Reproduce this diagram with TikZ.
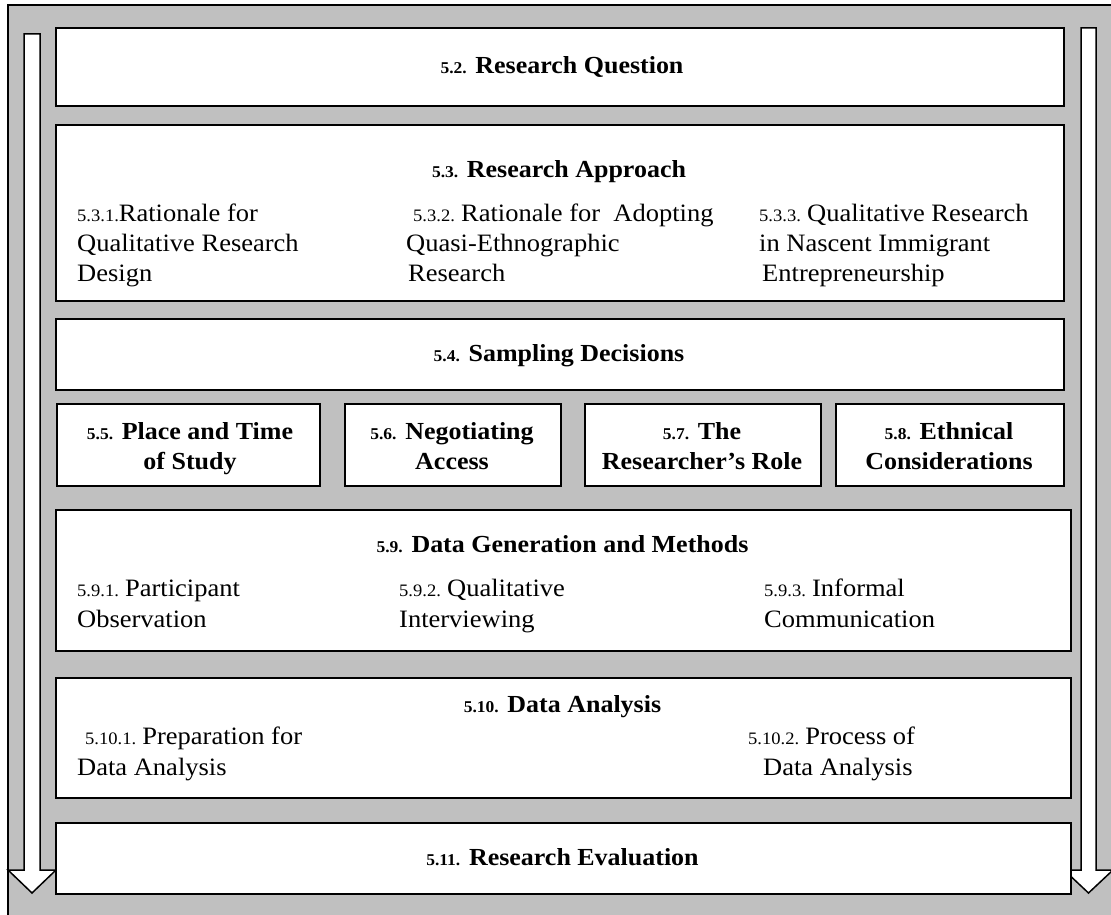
\documentclass[tikz,border=0pt]{standalone}
\usepackage{fontspec}
\setmainfont{Liberation Serif}[FakeStretch=1.06]
\usetikzlibrary{positioning}
\definecolor{frameGray}{HTML}{C0C0C0}
% text sizes: headings, sub-items, and the small section numbers
\newcommand{\headfont}{\fontsize{24.5}{30}\selectfont\bfseries}
\newcommand{\itemfont}{\fontsize{25}{30}\selectfont}
\newcommand{\bno}[1]{{\fontsize{16.5}{16}\selectfont\bfseries #1}}
\newcommand{\sno}[1]{{\fontsize{17.5}{17}\selectfont #1}}
\newcommand{\txtl}[1]{\begin{tabular}[t]{@{}l@{}}#1\end{tabular}}
\newcommand{\txtc}[1]{\begin{tabular}[t]{@{}c@{}}#1\end{tabular}}
\tikzset{
  panel/.style={draw=black,line width=1.7pt,fill=white,inner sep=0pt,
                anchor=north west},
  head/.style={font=\headfont,anchor=base,inner sep=0pt},
  item/.style={font=\itemfont,anchor=base west,inner sep=0pt},
  flowarrow/.style={draw=black,line width=1.5pt,fill=white,line join=miter},
}

\begin{document}
\begin{tikzpicture}[x=1pt,y=-1pt]
  \useasboundingbox (0,0) rectangle (1111,915);
  \clip (0,0) rectangle (1111,915);
  % grey frame, runs off the right and bottom edge
  \draw[line width=1.7pt,fill=frameGray] (8,5) rectangle (1130,935);

  % downward arrows on both sides
  \draw[flowarrow] (24,34) -- (40,34) -- (40,870) -- (56,870) -- (32,893)
    -- (8,870) -- (24,870) -- cycle;
  \draw[flowarrow] (1081,28) -- (1096,28) -- (1096,870) -- (1113,870)
    -- (1088.5,893) -- (1064,870) -- (1081,870) -- cycle;

  % stacked sections
  \node[panel,minimum width=1008pt,minimum height=78pt] (rq) at (55,27) {};
  \node[panel,minimum width=1008pt,minimum height=176pt] (ra) at (55,124) {};
  \node[panel,minimum width=1008pt,minimum height=71pt] (sd) at (55,318) {};
  \node[panel,minimum width=263pt,minimum height=82pt] (pt) at (56,403) {};
  \node[panel,minimum width=216pt,minimum height=82pt] (na) at (344,403) {};
  \node[panel,minimum width=236pt,minimum height=82pt] (rr) at (584,403) {};
  \node[panel,minimum width=228pt,minimum height=82pt] (ec) at (835,403) {};
  \node[panel,minimum width=1015pt,minimum height=141pt] (dg) at (55,509) {};
  \node[panel,minimum width=1015pt,minimum height=120pt] (da) at (55,677) {};
  \node[panel,minimum width=1015pt,minimum height=71pt] (re) at (55,822) {};

  % headings
  \node[head] (rqT) at (562,74) {\bno{5.2.} Research Question};
  \node[head] (raT) at (559,178) {\bno{5.3.} Research Approach};
  \node[head] (sdT) at (559,361) {\bno{5.4.} Sampling Decisions};
  \node[head] (ptT) at (190,439) {\txtc{\bno{5.5.} Place and Time\\of Study}};
  \node[head] (naT) at (452,439) {\txtc{\bno{5.6.} Negotiating\\Access}};
  \node[head] (rrT) at (702,439) {\txtc{\bno{5.7.} The\\Researcher's Role}};
  \node[head] (ecT) at (949,439) {\txtc{\bno{5.8.} Ethnical\\Considerations}};
  \node[head] (dgT) at (562.5,552) {\bno{5.9.} Data Generation and Methods};
  \node[head] (daT) at (562.5,712) {\bno{5.10.} Data Analysis};
  \node[head] (reT) at (562.5,865) {\bno{5.11.} Research Evaluation};

  % sub-items
  \node[item] (ra1) at (77,221) {\txtl{\sno{5.3.1.}Rationale for\\
    Qualitative Research\\Design}};
  \node[item] (ra2) at (406,221) {\txtl{\hspace{7pt}\sno{5.3.2. }Rationale for\ \ Adopting\\
    Quasi-Ethnographic\\\hspace{2pt}Research}};
  \node[item] (ra3) at (759,221) {\txtl{\sno{5.3.3. }Qualitative Research\\
    in Nascent Immigrant\\\hspace{3pt}Entrepreneurship}};
  \node[item,font=\fontsize{25}{31}\selectfont] (dg1) at (77,596)
    {\txtl{\sno{5.9.1. }Participant\\Observation}};
  \node[item,font=\fontsize{25}{31}\selectfont] (dg2) at (399,596)
    {\txtl{\sno{5.9.2. }Qualitative\\Interviewing}};
  \node[item,font=\fontsize{25}{31}\selectfont] (dg3) at (764,596)
    {\txtl{\sno{5.9.3. }Informal\\Communication}};
  \node[item,font=\fontsize{25}{31}\selectfont] (da1) at (77,744)
    {\txtl{\hspace{8pt}\sno{5.10.1. }Preparation for\\Data Analysis}};
  \node[item,font=\fontsize{25}{31}\selectfont] (da2) at (748,744)
    {\txtl{\sno{5.10.2. }Process of\\\hspace{15pt}Data Analysis}};
\end{tikzpicture}
\end{document}
